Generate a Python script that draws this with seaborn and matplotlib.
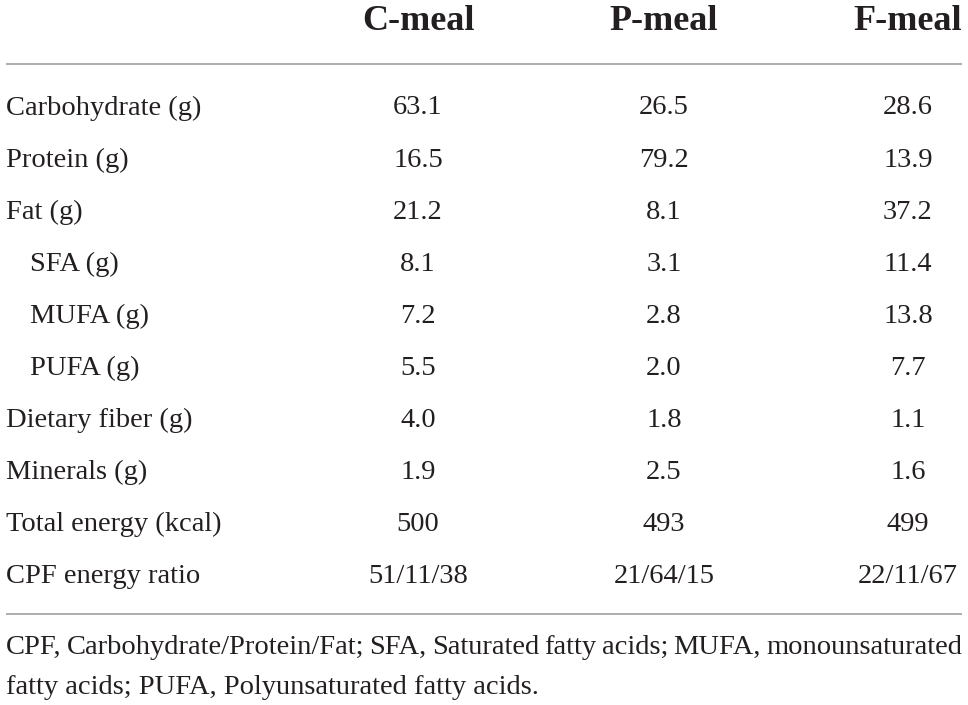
import matplotlib
matplotlib.use("Agg")
import matplotlib.pyplot as plt
import seaborn as sns
import pandas as pd

# table content
meals = ["C-meal", "P-meal", "F-meal"]
nutrients = ["Carbohydrate (g)", "Protein (g)", "Fat (g)", "SFA (g)", "MUFA (g)",
             "PUFA (g)", "Dietary fiber (g)", "Minerals (g)", "Total energy (kcal)",
             "CPF energy ratio"]
indented = ["SFA (g)", "MUFA (g)", "PUFA (g)"]
c_meal = ["63.1", "16.5", "21.2", "8.1", "7.2", "5.5", "4.0", "1.9", "500", "51/11/38"]
p_meal = ["26.5", "79.2", "8.1", "3.1", "2.8", "2.0", "1.8", "2.5", "493", "21/64/15"]
f_meal = ["28.6", "13.9", "37.2", "11.4", "13.8", "7.7", "1.1", "1.6", "499", "22/11/67"]
footnote = ("CPF, Carbohydrate/Protein/Fat; SFA, Saturated fatty acids; MUFA, "
            "monounsaturated fatty acids; PUFA, Polyunsaturated fatty acids.")

df = pd.DataFrame({"C-meal": c_meal, "P-meal": p_meal, "F-meal": f_meal}, index=nutrients)

sns.set_theme(style="white")
plt.rcParams["font.family"] = ["Liberation Serif", "DejaVu Serif"]

fig = plt.figure(figsize=(9.68, 7.05), dpi=100)
ax = fig.add_axes([0, 0, 1, 1])
# pixel-like coordinate space
ax.set_xlim(0, 968)
ax.set_ylim(705, 0)
ax.axis("off")

txt = "#231f20"
col_x = [418, 664, 908]
row_y0, row_dy = 108, 52.1
body_fs = 20.5

for j, meal in enumerate(meals):
    ax.text(col_x[j], 21, meal, ha="center", va="center", fontsize=26,
            fontweight="bold", color=txt)

for i, name in enumerate(df.index):
    y = row_y0 + i * row_dy
    x0 = 30 if name in indented else 6
    ax.text(x0, y, name, ha="left", va="center", fontsize=body_fs, color=txt)
    for j, meal in enumerate(meals):
        ax.text(col_x[j], y, df.loc[name, meal], ha="center", va="center",
                fontsize=body_fs, color=txt)

for yl in (63.5, 614):
    ax.plot([6, 962], [yl, yl], color="#a0a0a0", lw=1.2, solid_capstyle="butt")

# footnote, first line justified
words = footnote.split(" ")
line1 = words[:8]
line2 = " ".join(words[8:])
fig.canvas.draw()
r = fig.canvas.get_renderer()
tmp = [ax.text(0, 0, w, fontsize=body_fs) for w in line1]
widths = [t.get_window_extent(r).width for t in tmp]
for t in tmp:
    t.remove()
gap = (962 - 6 - sum(widths)) / (len(line1) - 1)
x = 6
for w, wd in zip(line1, widths):
    ax.text(x, 647, w, ha="left", va="center", fontsize=body_fs, color=txt)
    x += wd + gap
ax.text(6, 688, line2, ha="left", va="center", fontsize=body_fs, color=txt)

fig.savefig("out.png", dpi=100)
